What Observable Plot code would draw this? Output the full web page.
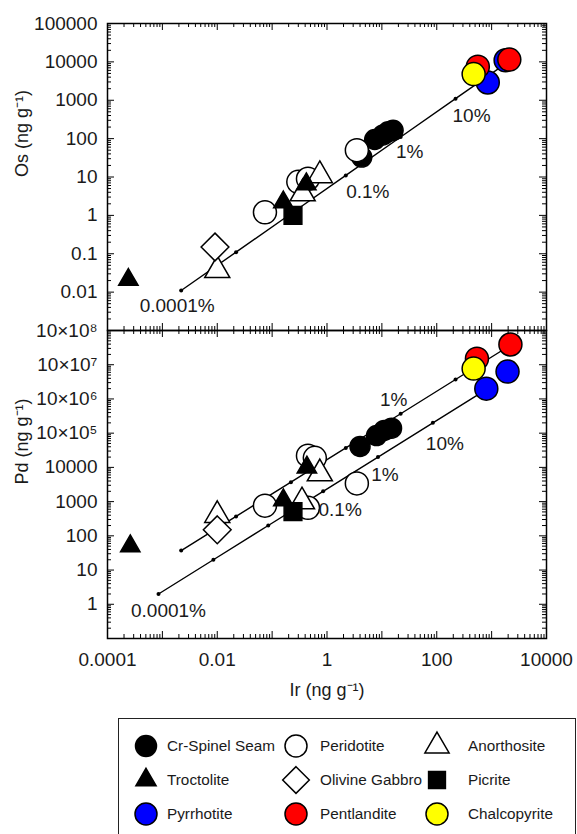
<!DOCTYPE html>
<html><head><meta charset="utf-8">
<script src="https://cdn.jsdelivr.net/npm/d3@7"></script>
<script src="https://cdn.jsdelivr.net/npm/@observablehq/plot@0.6"></script>
<style>
body{margin:0;background:#fff;font-family:"Liberation Sans",Arial,sans-serif;}
#wrap{position:relative;width:577px;height:834px;overflow:hidden;background:#fff;}
#top,#bot,#legend{position:absolute;}
#top{left:0;top:0}
#bot{left:0;top:310px}
#legend{left:118px;top:718px;width:456px;height:130px;border:1.5px solid #222;}
</style></head><body>
<div id="wrap"><div id="top"></div><div id="bot"></div><div id="legend"></div></div>
<script>
// ---- axis ticks ----
const xTickValues = [1e-4, 1e-2, 1, 1e2, 1e4];
const xTickLabels = ["0.0001", "0.01", "1", "100", "10000"];
const osTickValues = [1e5, 1e4, 1e3, 1e2, 1e1, 1, 0.1, 0.01];
const osTickLabels = ["100000", "10000", "1000", "100", "10", "1", "0.1", "0.01"];
const pdTickValues = [1e8, 1e7, 1e6, 1e5, 1e4, 1e3, 1e2, 1e1, 1];
const pdTickLabels = ["10×10⁸", "10×10⁷", "10×10⁶", "10×10⁵", "10000", "1000", "100", "10", "1"];

// ---- mixing lines (tick at each decade of sulfide fraction) ----
const mixPct = ["0.0001%", "0.001%", "0.01%", "0.1%", "1%", "10%", "100%"];
const mixIr = [0.0022, 0.022, 0.22, 2.2, 22, 220, 2200];
const mixOs = [0.011, 0.11, 1.1, 11, 110, 1100, 11000];
const mixPdHigh = [37, 370, 3700, 37000, 370000, 3700000, 37000000];
const mixIrLow = [0.00085, 0.0085, 0.085, 0.85, 8.5, 85, 850];
const mixPdLow = [2, 20, 200, 2000, 20000, 200000, 2000000];

// ---- samples: Ir vs Os (top) ----
const crSpinelIrTop = [16, 13, 10.5, 7.4, 4.3];
const crSpinelOs = [165, 150, 125, 95, 33];
const peridotiteIrTop = [0.074, 0.3, 0.45, 3.5];
const peridotiteOs = [1.2, 7.5, 9, 50];
const anorthositeIrTop = [0.01, 0.36, 0.74];
const anorthositeOs = [0.037, 3.7, 11];
const troctoliteIrTop = [0.00024, 0.16, 0.42];
const troctoliteOs = [0.021, 2.2, 6.5];
const olivineGabbroIrTop = [0.0091];
const olivineGabbroOs = [0.15];
const picriteIrTop = [0.24];
const picriteOs = [1.0];
const pyrrhotiteIrTop = [1800, 850];
const pyrrhotiteOs = [11000, 2900];
const pentlanditeIrTop = [2100, 560];
const pentlanditeOs = [11500, 7500];
const chalcopyriteIrTop = [470];
const chalcopyriteOs = [4800];

// ---- samples: Ir vs Pd (bottom) ----
const crSpinelIrBot = [15, 11, 8, 4.0];
const crSpinelPd = [140000, 120000, 85000, 41000];
const peridotiteIrBot = [0.074, 0.45, 0.6, 0.45, 3.5];
const peridotitePd = [760, 22000, 19000, 660, 3400];
const anorthositeIrBot = [0.01, 0.35, 0.74];
const anorthositePd = [400, 1000, 6600];
const troctoliteIrBot = [0.00026, 0.16, 0.43];
const troctolitePd = [50, 1100, 10000];
const olivineGabbroIrBot = [0.01];
const olivineGabbroPd = [150];
const picriteIrBot = [0.24];
const picritePd = [510];
const pyrrhotiteIrBot = [1950, 800];
const pyrrhotitePd = [6300000, 2000000];
const pentlanditeIrBot = [2200, 540];
const pentlanditePd = [39000000, 15000000];
const chalcopyriteIrBot = [470];
const chalcopyritePd = [7700000];

const seriesNames = ["Cr-Spinel Seam", "Peridotite", "Anorthosite", "Troctolite", "Olivine Gabbro", "Picrite", "Pyrrhotite", "Pentlandite", "Chalcopyrite"];
const legendOrder = ["Cr-Spinel Seam", "Peridotite", "Anorthosite", "Troctolite", "Olivine Gabbro", "Picrite", "Pyrrhotite", "Pentlandite", "Chalcopyrite"];

const styles = {
  "Cr-Spinel Seam": {symbol: "circle", fill: "black", r: 10},
  "Peridotite": {symbol: "circle", fill: "white", r: 11.5},
  "Anorthosite": {symbol: "triangle", fill: "white", r: 9.3},
  "Troctolite": {symbol: "triangle", fill: "black", r: 7.2},
  "Olivine Gabbro": {symbol: "diamond2", fill: "white", r: 12.5},
  "Picrite": {symbol: "square", fill: "black", r: 10},
  "Pyrrhotite": {symbol: "circle", fill: "#0000ff", r: 11.5},
  "Pentlandite": {symbol: "circle", fill: "#ff0000", r: 11.5},
  "Chalcopyrite": {symbol: "circle", fill: "#ffff00", r: 11.5}
};

const zip = (xs, ys) => xs.map((x, i) => ({x, y: ys[i]}));
const topSeries = {
  "Cr-Spinel Seam": zip(crSpinelIrTop, crSpinelOs),
  "Peridotite": zip(peridotiteIrTop, peridotiteOs),
  "Anorthosite": zip(anorthositeIrTop, anorthositeOs),
  "Troctolite": zip(troctoliteIrTop, troctoliteOs),
  "Olivine Gabbro": zip(olivineGabbroIrTop, olivineGabbroOs),
  "Picrite": zip(picriteIrTop, picriteOs),
  "Pyrrhotite": zip(pyrrhotiteIrTop, pyrrhotiteOs),
  "Pentlandite": zip(pentlanditeIrTop, pentlanditeOs),
  "Chalcopyrite": zip(chalcopyriteIrTop, chalcopyriteOs)
};
const botSeries = {
  "Cr-Spinel Seam": zip(crSpinelIrBot, crSpinelPd),
  "Peridotite": zip(peridotiteIrBot, peridotitePd),
  "Anorthosite": zip(anorthositeIrBot, anorthositePd),
  "Troctolite": zip(troctoliteIrBot, troctolitePd),
  "Olivine Gabbro": zip(olivineGabbroIrBot, olivineGabbroPd),
  "Picrite": zip(picriteIrBot, picritePd),
  "Pyrrhotite": zip(pyrrhotiteIrBot, pyrrhotitePd),
  "Pentlandite": zip(pentlanditeIrBot, pentlanditePd),
  "Chalcopyrite": zip(chalcopyriteIrBot, chalcopyritePd)
};
const mixTop = mixPct.map((p, i) => ({p, x: mixIr[i], y: mixOs[i]}));
const mixHigh = mixPct.map((p, i) => ({p, x: mixIr[i], y: mixPdHigh[i]}));
const mixLow = mixPct.map((p, i) => ({p, x: mixIrLow[i], y: mixPdLow[i]}));

const FONT = "Liberation Sans, Arial, sans-serif";
const W = 577, ML = 107, MR = 31;
const innerW = W - ML - MR;

function decades(lo, hi) { const out = []; for (let e = lo; e <= hi; e++) out.push(10 ** e); return out; }
function minors(lo, hi) { const out = []; for (let e = lo; e < hi; e++) for (let m = 2; m <= 9; m++) out.push(m * 10 ** e); return out; }

function edgeTicks(innerH, yLo, yHi) {
  const xMaj = decades(-4, 4), xMin = minors(-4, 4);
  const yMaj = decades(yLo, yHi), yMin = minors(yLo, yHi);
  const s = {stroke: "black", strokeWidth: 1};
  const LM = 7, Lm = 4;
  return [
    Plot.tickX(xMaj, {x: d => d, insetTop: innerH - LM, ...s}),
    Plot.tickX(xMaj, {x: d => d, insetBottom: innerH - LM, ...s}),
    Plot.tickX(xMin, {x: d => d, insetTop: innerH - Lm, ...s}),
    Plot.tickX(xMin, {x: d => d, insetBottom: innerH - Lm, ...s}),
    Plot.tickY(yMaj, {y: d => d, insetRight: innerW - LM, ...s}),
    Plot.tickY(yMaj, {y: d => d, insetLeft: innerW - LM, ...s}),
    Plot.tickY(yMin, {y: d => d, insetRight: innerW - Lm, ...s}),
    Plot.tickY(yMin, {y: d => d, insetLeft: innerW - Lm, ...s})
  ];
}

function sampleMarks(series) {
  return seriesNames.map(name => {
    const st = styles[name];
    return Plot.dot(series[name], {x: "x", y: "y", symbol: st.symbol, r: st.r, fill: st.fill, stroke: "black", strokeWidth: 1.5});
  });
}

function mixMarks(data) {
  return [
    Plot.line(data, {x: "x", y: "y", stroke: "black", strokeWidth: 1.4}),
    Plot.dot(data, {x: "x", y: "y", r: 2, fill: "black"})
  ];
}

function pctLabel(data, idx, dx, dy) {
  return Plot.text([data[idx]], {x: "x", y: "y", text: "p", dx, dy, fontSize: 19, fill: "#1a1a1a", lineAnchor: "middle"});
}

// ---------- top panel ----------
const topH = 307;
const osMap = new Map(osTickValues.map((v, i) => [v, osTickLabels[i]]));
const topPlot = Plot.plot({
  width: W, height: 23 + topH + 2,
  marginTop: 23, marginBottom: 2, marginLeft: ML, marginRight: MR,
  style: {fontFamily: FONT, background: "transparent", color: "#1a1a1a"},
  x: {type: "log", domain: [1e-4, 1e4], axis: null},
  y: {type: "log", domain: [1e-3, 1e5], axis: null},
  marks: [
    ...mixMarks(mixTop),
    ...sampleMarks(topSeries),
    pctLabel(mixTop, 0, -4, 15),
    pctLabel(mixTop, 3, 22, 16),
    pctLabel(mixTop, 4, 9, 15),
    pctLabel(mixTop, 5, 16, 17),
    Plot.axisY(osTickValues, {anchor: "left", tickSize: 0, tickPadding: 10, tickFormat: d => osMap.get(d), fontSize: 19, label: null}),
    Plot.text(["Os (ng g⁻¹)"], {text: d => d, frameAnchor: "left", rotate: -90, dx: -85, fontSize: 18, fill: "#1a1a1a"}),
    ...edgeTicks(topH, -3, 5),
    Plot.frame({stroke: "black", strokeWidth: 1.5})
  ]
});
document.getElementById("top").append(topPlot);

// ---------- bottom panel ----------
const botH = 308;
const pdMap = new Map(pdTickValues.map((v, i) => [v, pdTickLabels[i]]));
const xMap = new Map(xTickValues.map((v, i) => [v, xTickLabels[i]]));
const botPlot = Plot.plot({
  width: W, height: 20 + botH + 67,
  marginTop: 20, marginBottom: 67, marginLeft: ML, marginRight: MR,
  style: {fontFamily: FONT, background: "transparent", color: "#1a1a1a"},
  x: {type: "log", domain: [1e-4, 1e4], axis: null},
  y: {type: "log", domain: [1e-1, 1e8], axis: null},
  marks: [
    ...mixMarks(mixHigh),
    ...mixMarks(mixLow),
    ...sampleMarks(botSeries),
    pctLabel(mixLow, 0, 10, 17),
    pctLabel(mixLow, 3, 17, 19),
    pctLabel(mixLow, 4, 7, 18),
    pctLabel(mixLow, 5, 12, 21),
    pctLabel(mixHigh, 4, -7, -14),
    Plot.axisY(pdTickValues, {anchor: "left", tickSize: 0, tickPadding: 10, tickFormat: d => pdMap.get(d), fontSize: 19, label: null}),
    Plot.axisX(xTickValues, {anchor: "bottom", tickSize: 0, tickPadding: 14, tickFormat: d => xMap.get(d), fontSize: 19, label: null}),
    Plot.text(["Pd (ng g⁻¹)"], {text: d => d, frameAnchor: "left", rotate: -90, dx: -85, fontSize: 18, fill: "#1a1a1a"}),
    Plot.text(["Ir (ng g⁻¹)"], {text: d => d, frameAnchor: "bottom", dy: 52, fontSize: 18, fill: "#1a1a1a", lineAnchor: "middle"}),
    ...edgeTicks(botH, -1, 8),
    Plot.frame({stroke: "black", strokeWidth: 1.5})
  ]
});
document.getElementById("bot").append(botPlot);

// ---------- legend ----------
const symMap = {circle: d3.symbolCircle, triangle: d3.symbolTriangle, diamond2: d3.symbolDiamond2, square: d3.symbolSquare};
const legendSizes = {"Cr-Spinel Seam": 10.5, "Peridotite": 11, "Anorthosite": 9, "Troctolite": 7.5, "Olivine Gabbro": 12, "Picrite": 9.5, "Pyrrhotite": 11, "Pentlandite": 11, "Chalcopyrite": 11};
const colSym = [27, 177, 318], colText = [48, 201, 349], rowY = [27, 61, 95];
const lsvg = d3.select("#legend").append("svg").attr("width", 456).attr("height", 130)
  .style("font-family", FONT).style("display", "block");
legendOrder.forEach((name, i) => {
  const row = Math.floor(i / 3), col = i % 3;
  const st = styles[name];
  const r = legendSizes[name];
  lsvg.append("path")
    .attr("d", d3.symbol(symMap[st.symbol], Math.PI * r * r)())
    .attr("transform", `translate(${colSym[col]},${rowY[row]})`)
    .attr("fill", st.fill).attr("stroke", "black").attr("stroke-width", 1.5);
  lsvg.append("text").attr("x", colText[col]).attr("y", rowY[row]).attr("dy", "0.35em")
    .attr("font-size", 15.3).attr("fill", "#1a1a1a").text(name);
});
</script>
</body></html>
